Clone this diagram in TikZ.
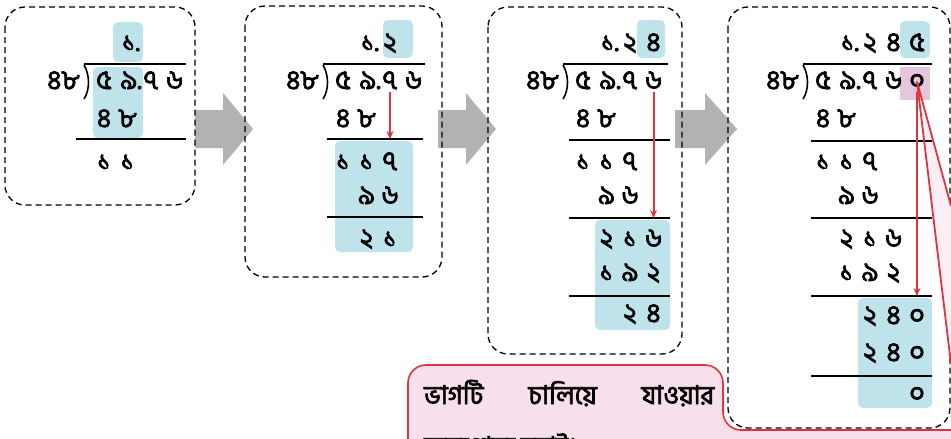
\documentclass[tikz,border=0pt]{standalone}
\usepackage{fontspec}
\newfontfamily\bnfont[Script=Bengali, FakeBold=2.5]{Hind Siliguri}
\usetikzlibrary{arrows.meta}

\definecolor{boxblue}{RGB}{190,227,235}
\definecolor{boxpink}{RGB}{230,198,222}
\definecolor{notepink}{RGB}{247,224,236}
\definecolor{markred}{RGB}{222,52,64}
\definecolor{flowgray}{RGB}{178,178,178}

\tikzset{
  dg/.style={font=\bnfont\fontsize{27}{27}\selectfont, inner sep=0pt, anchor=base},
  panel/.style={dash pattern=on 6pt off 4pt, line width=1.3pt, rounded corners=20pt},
  hl/.style={fill=boxblue, rounded corners=5pt},
  subline/.style={line width=2pt},
  divbar/.style={line width=2.6pt},
  carry/.style={markred, line width=2pt, -{Stealth[length=8pt,width=7pt]}},
  notetext/.style={font=\bnfont\fontsize{26}{26}\selectfont, inner sep=0pt, anchor=base west},
}

% divisor, bracket, bar and the dividend of one panel
\newcommand{\divhead}[2]{%
  \node[dg, anchor=base east] (dv#1) at (-24,89) {৪৮};
  \draw[line width=1.6pt] (-20,65) .. controls (-14,75) and (-14,90) .. (-20,99);
  \draw[divbar] (-20,64) -- (#2,64);
  \node[dg] (d#1-1) at (0,89) {৫};
  \node[dg] (d#1-2) at (27,89) {৯.};
  \node[dg] (d#1-3) at (47,89) {৭};
  \node[dg] (d#1-4) at (70.5,89) {৬};
}
% one row of digits, starting at a column
\newcommand{\digitrow}[4]{%
  \foreach \d [count=\i from #2] in {#4}
    \node[dg] (#1-\i) at ({23.5*(\i-1)},#3) {\d};
}

\begin{document}
\begin{tikzpicture}[x=1pt,y=-1pt]
  \useasboundingbox (0,0) rectangle (951,439);
  \clip (0,0) rectangle (951,439);

  % flow arrows between the panels
  \foreach \xa/\xb/\xc in {195/223/253, 438/466/496, 675/705/737}
    \fill[flowgray] (\xa,110) -- (\xb,110) -- (\xb,93) -- (\xc,129)
      -- (\xb,165) -- (\xb,148) -- (\xa,148) -- cycle;

  % panels
  \draw[panel] (5,7) rectangle (195,205);
  \draw[panel] (245,6) rectangle (442,277);
  \draw[panel] (488,7) rectangle (682,354);
  \draw[panel] (728,7) rectangle (950,428);

  % panel 1
  \begin{scope}[xshift=104pt]
    \fill[hl] (9,22) rectangle (39,62);
    \fill[hl] (-11,67) rectangle (39,138);
    \node[dg] (q1-2) at (27,51) {১.};
    \divhead{1}{82}
    \digitrow{ra1}{1}{127}{৪,৮}
    \draw[subline] (-28,139) -- (82,139);
    \digitrow{rb1}{1}{170}{১,১}
  \end{scope}

  % panel 2
  \begin{scope}[xshift=343pt]
    \fill[hl] (40,20) rectangle (70,58);
    \fill[hl] (-8,141) rectangle (70,252);
    \node[dg] (q2-2) at (27,51) {১.};
    \digitrow{q2}{3}{51}{২}
    \divhead{2}{82}
    \digitrow{ra2}{1}{127}{৪,৮}
    \draw[subline] (-16,139) -- (80,139);
    \digitrow{rb2}{1}{170}{১,১,৭}
    \digitrow{rc2}{2}{204}{৯,৬}
    \draw[subline] (-16,217) -- (80,217);
    \digitrow{rd2}{2}{247}{২,১}
    \coordinate (t2) at (47,139);
    \draw[carry, shorten <=3pt] (d2-3.south) -- (t2);
  \end{scope}

  % panel 3
  \begin{scope}[xshift=583pt]
    \fill[hl] (54,20) rectangle (82,58);
    \fill[hl] (12,220) rectangle (87,330);
    \node[dg] (q3-2) at (27,51) {১.};
    \digitrow{q3}{3}{51}{২,৪}
    \divhead{3}{85}
    \digitrow{ra3}{1}{127}{৪,৮}
    \draw[subline] (-14,140) -- (87,140);
    \digitrow{rb3}{1}{170}{১,১,৭}
    \digitrow{rc3}{2}{204}{৯,৬}
    \draw[subline] (-14,218) -- (87,218);
    \digitrow{rd3}{2}{247}{২,১,৬}
    \digitrow{re3}{2}{281}{১,৯,২}
    \draw[subline] (-14,296) -- (87,296);
    \digitrow{rf3}{3}{322}{২,৪}
    \coordinate (t3) at (70.5,218);
    \draw[carry, shorten <=3pt] (d3-4.south) -- (t3);
  \end{scope}

  % panel 4
  \begin{scope}[xshift=823pt]
    \fill[hl] (77,21) rectangle (107,58);
    \fill[boxpink] (77,67) rectangle (107,100);
    \fill[hl] (35,298) rectangle (109,408);
    % pointer of the note
    \coordinate (w1) at (128,206);
    \coordinate (w2) at (128,364);
    \fill[notepink!55] (94,84) -- (w1) -- (w2) -- cycle;
    \node[dg] (q4-2) at (27,51) {১.};
    \digitrow{q4}{3}{51}{২,৪,৫}
    \divhead{4}{109}
    \node[dg] (d4-5) at (94,89) {০};
    \digitrow{ra4}{1}{127}{৪,৮}
    \draw[subline] (-12,141) -- (109,141);
    \digitrow{rb4}{1}{170}{১,১,৭}
    \digitrow{rc4}{2}{204}{৯,৬}
    \draw[subline] (-12,218) -- (109,218);
    \digitrow{rd4}{2}{247}{২,১,৬}
    \digitrow{re4}{2}{281}{১,৯,২}
    \draw[subline] (-12,296) -- (109,296);
    \digitrow{rf4}{3}{324}{২,৪,০}
    \digitrow{rg4}{3}{361}{২,৪,০}
    \draw[subline] (-12,376) -- (109,376);
    \digitrow{rh4}{5}{402}{০}
    \coordinate (t4) at (94,296);
    \draw[carry, shorten <=3pt] (d4-5.south) -- (t4);
    \draw[markred, line width=1.8pt] (w1) -- (d4-5.center) -- (w2);
  \end{scope}

  % note box
  \path[fill=notepink, draw=markred, line width=1.6pt] (408,470)
    [rounded corners=18pt] -- (408,365) -- (723,365) -- (723,430)
    [sharp corners] -- (970,430) -- (970,470) -- cycle;
  \node[notetext] (note1) at (424,404) {\makebox[290pt][s]{ভাগটি চালিয়ে যাওয়ার}};
  \node[notetext] (note2) at (424,455) {জন্য শূন্য বসাই।};
\end{tikzpicture}
\end{document}
